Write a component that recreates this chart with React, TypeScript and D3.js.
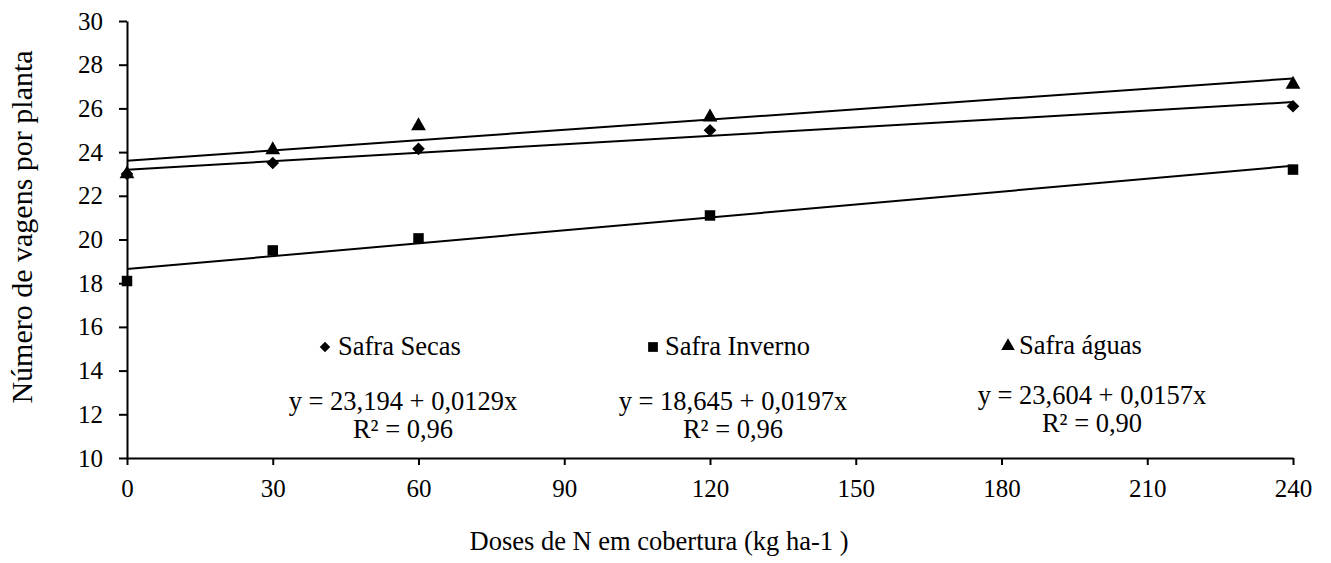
import * as d3 from 'd3';
import { useEffect, useRef } from 'react';

// Doses de N (kg/ha)
const doses = [0, 30, 60, 120, 240];

// Número de vagens por planta
const secas = [23.0, 23.5, 24.15, 25.0, 26.1];
const inverno = [18.1, 19.5, 20.05, 21.1, 23.2];
const aguas = [23.0, 24.1, 25.2, 25.6, 27.1];

// regression coefficients [intercept, slope]
const secasFit = [23.194, 0.0129];
const invernoFit = [18.645, 0.0197];
const aguasFit = [23.604, 0.0157];

const seriesNames = ['Safra Secas', 'Safra Inverno', 'Safra águas'];
const equations = ['y = 23,194 + 0,0129x', 'y = 18,645 + 0,0197x', 'y = 23,604 + 0,0157x'];
const r2Labels = ['R² = 0,96', 'R² = 0,96', 'R² = 0,90'];

const xTicks = [0, 30, 60, 90, 120, 150, 180, 210, 240];
const yTicks = [10, 12, 14, 16, 18, 20, 22, 24, 26, 28, 30];

const WIDTH = 1331;
const HEIGHT = 563;
const MARGIN = { top: 21, right: 38, bottom: 105, left: 127 };
const FONT = 'Liberation Serif, Times New Roman, serif';
const TICK_SIZE = 25;
const TEXT_SIZE = 26.5;

const boundsWidth = WIDTH - MARGIN.left - MARGIN.right;
const boundsHeight = HEIGHT - MARGIN.top - MARGIN.bottom;

const xScale = d3.scaleLinear().domain([0, 240]).range([0, boundsWidth]);
const yScale = d3.scaleLinear().domain([10, 30]).range([boundsHeight, 0]);

const diamond = d3.symbol(d3.symbolSquare, 80)();
const square = d3.symbol(d3.symbolSquare, 110)();
const triangle = d3.symbol(d3.symbolTriangle, 95)();
const legendDiamond = d3.symbol(d3.symbolSquare, 55)();
const legendSquare = d3.symbol(d3.symbolSquare, 95)();
const legendTriangle = d3.symbol(d3.symbolTriangle, 80)();

const series = [
  { values: secas, fit: secasFit, path: diamond, legendPath: legendDiamond, rotate: 45 },
  { values: inverno, fit: invernoFit, path: square, legendPath: legendSquare, rotate: 0 },
  { values: aguas, fit: aguasFit, path: triangle, legendPath: legendTriangle, rotate: 0 },
];

// legend / equation anchor positions
const legendPos = [
  { x: 325, y: 347, tx: 338, eqX: 403, eqY: 410, r2Y: 438 },
  { x: 653, y: 347, tx: 665, eqX: 733, eqY: 410, r2Y: 438 },
  { x: 1008, y: 346, tx: 1019, eqX: 1092, eqY: 404, r2Y: 432 },
];

export default function App() {
  const axesRef = useRef<SVGGElement | null>(null);

  useEffect(() => {
    const g = d3.select(axesRef.current);
    g.selectAll('*').remove();

    const xAxis = d3
      .axisBottom(xScale)
      .tickValues(xTicks)
      .tickSize(7)
      .tickSizeOuter(0)
      .tickPadding(14);
    const xg = g.append('g').attr('transform', `translate(0, ${boundsHeight})`).call(xAxis);

    const yAxis = d3
      .axisLeft(yScale)
      .tickValues(yTicks)
      .tickSize(8)
      .tickSizeOuter(0)
      .tickPadding(16);
    const yg = g.append('g').call(yAxis);

    [xg, yg].forEach((a) => {
      a.attr('font-family', FONT).attr('font-size', TICK_SIZE);
      a.select('.domain').attr('stroke', '#000').attr('stroke-width', 2);
      a.selectAll('.tick line').attr('stroke', '#000').attr('stroke-width', 2);
      a.selectAll('.tick text').attr('fill', '#000');
    });
  }, []);

  return (
    <svg
      width={WIDTH}
      height={HEIGHT}
      style={{ position: 'absolute', left: 0, top: 0, background: '#fff' }}
      fontFamily={FONT}
      fontSize={TEXT_SIZE}
    >
      <g transform={`translate(${MARGIN.left},${MARGIN.top})`}>
        {series.map((s, i) => (
          <g key={i}>
            <line
              x1={xScale(0)}
              x2={xScale(240)}
              y1={yScale(s.fit[0])}
              y2={yScale(s.fit[0] + s.fit[1] * 240)}
              stroke="#000"
              strokeWidth={2}
            />
            {s.values.map((v, j) => (
              <path
                key={j}
                d={s.path as string}
                fill="#000"
                transform={`translate(${xScale(doses[j])},${yScale(v)}) rotate(${s.rotate})`}
              />
            ))}
          </g>
        ))}
      </g>
      <g ref={axesRef} transform={`translate(${MARGIN.left},${MARGIN.top})`} />

      {/* legend and equations */}
      {series.map((s, i) => (
        <g key={i} fill="#000">
          <path
            d={s.legendPath as string}
            transform={`translate(${legendPos[i].x},${legendPos[i].y}) rotate(${s.rotate})`}
          />
          <text x={legendPos[i].tx} y={legendPos[i].y + 8}>
            {seriesNames[i]}
          </text>
          <text x={legendPos[i].eqX} y={legendPos[i].eqY} textAnchor="middle">
            {equations[i]}
          </text>
          <text x={legendPos[i].eqX} y={legendPos[i].r2Y} textAnchor="middle">
            {r2Labels[i]}
          </text>
        </g>
      ))}

      <text x={659} y={550} textAnchor="middle" fontSize={26.5}>
        Doses de N em cobertura (kg ha-1 )
      </text>
      <text transform="translate(32, 227) rotate(-90)" textAnchor="middle" fontSize={30}>
        Número de vagens por planta
      </text>
    </svg>
  );
}
